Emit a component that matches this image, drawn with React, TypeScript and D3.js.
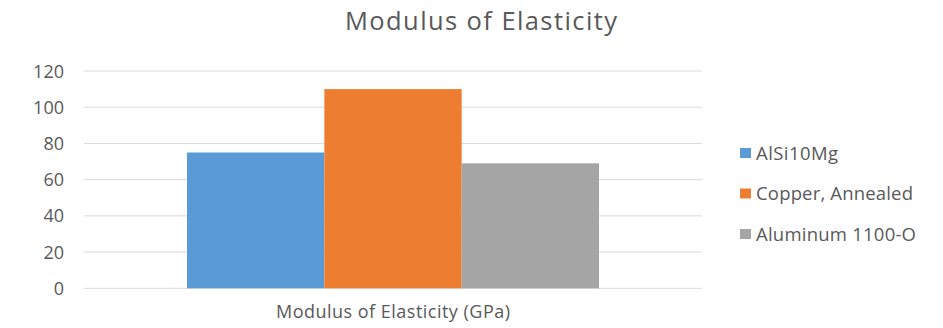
import React from "react";
import * as d3 from "d3";

const categories = ["Modulus of Elasticity (GPa)"];
const seriesNames = ["AlSi10Mg", "Copper, Annealed", "Aluminum 1100-O"];
const seriesValues = [75, 110, 69];
const seriesColors = ["#5B9BD5", "#ED7D31", "#A5A5A5"];
const yTicks = [0, 20, 40, 60, 80, 100, 120];
const title = "Modulus of Elasticity";
const legendWidths = [82, 157, 160];

const W = 943;
const H = 328;
const FONT = "'Open Sans', Lato, sans-serif";
const TXT = "#595959";

export default function App() {
  const plotLeft = 84;
  const plotRight = 702;
  const y = d3.scaleLinear().domain([0, 120]).range([288.3, 71]);
  const x0 = d3
    .scaleBand<string>()
    .domain(categories)
    .range([plotLeft, plotRight])
    .paddingInner(0)
    .paddingOuter(0.25);
  const x1 = d3
    .scaleBand<string>()
    .domain(seriesNames)
    .range([0, x0.bandwidth()])
    .padding(0);
  const legendY = d3.scalePoint<string>().domain(seriesNames).range([153, 234]);

  return (
    <svg
      width={W}
      height={H}
      style={{ position: "absolute", left: 0, top: 0, background: "#fff" }}
      fontFamily={FONT}
    >
      <rect x={0} y={0} width={W} height={H} fill="#fff" />
      <text
        x={481}
        y={30}
        textAnchor="middle"
        fontSize={25.5}
        fill={TXT}
        textLength={272}
        lengthAdjust="spacing"
      >
        {title}
      </text>
      {yTicks.map((t) => (
        <g key={t}>
          <line
            x1={plotLeft}
            x2={plotRight}
            y1={y(t)}
            y2={y(t)}
            stroke="#D9D9D9"
            strokeWidth={1}
          />
          <text
            x={64}
            y={y(t) + 6.5}
            textAnchor="end"
            fontSize={18}
            fill={TXT}
          >
            {t}
          </text>
        </g>
      ))}
      {categories.map((c) => (
        <g key={c} transform={`translate(${x0(c)},0)`}>
          {seriesNames.map((s, i) => (
            <rect
              key={s}
              x={x1(s)}
              y={y(seriesValues[i])}
              width={x1.bandwidth()}
              height={y(0) - y(seriesValues[i])}
              fill={seriesColors[i]}
            />
          ))}
          <text
            x={x0.bandwidth() / 2}
            y={318}
            textAnchor="middle"
            fontSize={18}
            fill={TXT}
            textLength={234}
            lengthAdjust="spacing"
          >
            {c}
          </text>
        </g>
      ))}
      {seriesNames.map((s, i) => (
        <g key={s} transform={`translate(740,${legendY(s)})`}>
          <rect x={0} y={-5} width={11} height={10} fill={seriesColors[i]} />
          <text
            x={16}
            y={6.5}
            fontSize={18.5}
            fill={TXT}
            textLength={legendWidths[i]}
            lengthAdjust="spacing"
          >
            {s}
          </text>
        </g>
      ))}
    </svg>
  );
}
